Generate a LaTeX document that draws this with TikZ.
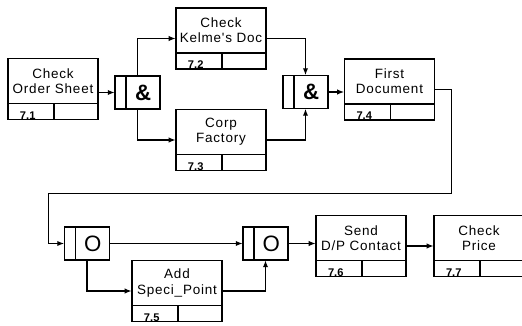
\documentclass[tikz,border=0pt]{standalone}
\usepackage{fontspec}
\setmainfont{Liberation Sans}
\newfontfamily\boxfont{Liberation Sans}[LetterSpace=6]
\usetikzlibrary{positioning, fit, arrows.meta}

\begin{document}
\begin{tikzpicture}[
    x=0.03cm, y=-0.03cm,
    act/.style={draw, line width=1.3pt, outer sep=0pt, inner sep=1pt, minimum width=2.7cm, minimum height=1.36cm, align=center, font=\boxfont\fontsize{11.5}{13}\selectfont},
    numcell/.style={draw, line width=1.3pt, outer sep=0pt, inner xsep=0.36cm, inner ysep=0.02cm, text height=0.44cm, text depth=0pt,
        execute at begin node={\hbox to 0.66cm\bgroup}, execute at end node={\hfil\egroup},
        font=\fontsize{9.5}{10}\selectfont\bfseries},
    blankcell/.style={draw, line width=1.3pt, outer sep=0pt, inner sep=0pt, minimum width=1.32cm, minimum height=0.48cm},
    junc/.style={draw, line width=1.3pt, outer sep=0pt, inner sep=0pt, minimum width=1.36cm, minimum height=1cm,
        path picture={\draw[line width=1.3pt] ([xshift=0.34cm]path picture bounding box.north west) -- ([xshift=0.34cm]path picture bounding box.south west);},
        execute at begin node={\hspace{0.34cm}}},
    andjunc/.style={junc, font=\fontsize{19}{20}\selectfont\bfseries},
    orjunc/.style={junc, font=\fontsize{19}{20}\selectfont},
    arr/.style={line width=1.1pt, -{Latex[length=6pt, width=4.5pt]}}
]
\useasboundingbox (0,0) rectangle (522,325);

% activity boxes
\node[act] (sheet) at (53,81) {Check\\Order Sheet};
\node[numcell, anchor=north west] (sheet-n) at (sheet.south west) {7.1};
\node[blankcell, right=0pt of sheet-n] (sheet-b) {};
\node[fit=(sheet)(sheet-b), inner sep=0pt] (sheet-box) {};

\node[act] (kelme) at (221,30.5) {Check\\Kelme's Doc};
\node[numcell, anchor=north west] (kelme-n) at (kelme.south west) {7.2};
\node[blankcell, right=0pt of kelme-n] (kelme-b) {};
\node[fit=(kelme)(kelme-b), inner sep=0pt] (kelme-box) {};

\node[act] (corp) at (221,132) {Corp\\Factory};
\node[numcell, anchor=north west] (corp-n) at (corp.south west) {7.3};
\node[blankcell, right=0pt of corp-n] (corp-b) {};
\node[fit=(corp)(corp-b), inner sep=0pt] (corp-box) {};

\node[act] (first) at (389.5,81.5) {First\\Document};
\node[numcell, anchor=north west] (first-n) at (first.south west) {7.4};
\node[blankcell, right=0pt of first-n] (first-b) {};
\node[fit=(first)(first-b), inner sep=0pt] (first-box) {};

\node[act] (add) at (177,283) {Add\\Speci\_Point};
\node[numcell, anchor=north west] (add-n) at (add.south west) {7.5};
\node[blankcell, right=0pt of add-n] (add-b) {};
\node[fit=(add)(add-b), inner sep=0pt] (add-box) {};

\node[act] (send) at (361,238) {Send\\D/P Contact};
\node[numcell, anchor=north west] (send-n) at (send.south west) {7.6};
\node[blankcell, right=0pt of send-n] (send-b) {};
\node[fit=(send)(send-b), inner sep=0pt] (send-box) {};

\node[act] (price) at (479,238) {Check\\Price};
\node[numcell, anchor=north west] (price-n) at (price.south west) {7.7};
\node[blankcell, right=0pt of price-n] (price-b) {};
\node[fit=(price)(price-b), inner sep=0pt] (price-box) {};

% junctions
\node[andjunc] (and1) at (137.5,92.5) {\&};
\node[andjunc] (and2) at (305.5,92) {\&};
\node[orjunc] (or1) at (87,243.5) {O};
\node[orjunc] (or2) at (265.5,243.5) {O};

% connectors
\draw[arr] (sheet.east |- and1.west) -- (and1.west);
\draw[arr] (and1.north) |- (kelme-box.west);
\draw[arr] (and1.south) |- (corp-box.west);
\draw[arr] (kelme-box.east) -| (and2.north);
\draw[arr] (corp-box.east) -| (and2.south);
\draw[arr] (and2.east) -- (first-box.west |- and2.east);
\draw[arr] (first-box.east) -- ++(17,0) -- ++(0,104) -| ([xshift=-0.48cm]or1.west) -- (or1.west);
\draw[arr] (or1.east) -- (or2.west);
\draw[arr] (or1.south) |- (add-box.west);
\draw[arr] (add-box.east) -| (or2.south);
\draw[arr] (or2.east) -- (send-box.west |- or2.east);
\draw[arr] (send-box.east) -- (price-box.west);
\end{tikzpicture}
\end{document}
